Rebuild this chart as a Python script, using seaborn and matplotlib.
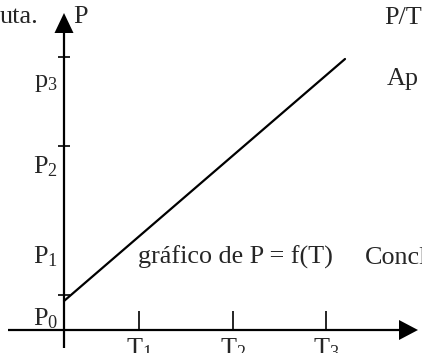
import matplotlib
matplotlib.use("Agg")
import matplotlib.pyplot as plt
from matplotlib.patches import Polygon
import seaborn as sns
import pandas as pd

# Isochoric transformation: pressure grows linearly with temperature
temp_ticks = [7.5, 16.9, 26.2]
temp_labels = ["T$_1$", "T$_2$", "T$_3$"]
press_ticks = [3.5, 18.4, 27.3]
press_labels = ["P$_0$", "P$_1$", "P$_2$", "p$_3$"]
press_label_pos = [0.5, 6.7, 15.7, 24.3]
line_T = [0.0, 28.1]
line_P = [2.9, 27.1]

sns.set_style("white")
plt.rcParams["font.family"] = ["Liberation Serif", "DejaVu Serif"]
plt.rcParams["mathtext.fontset"] = "custom"
plt.rcParams["mathtext.rm"] = "Liberation Serif"
plt.rcParams["mathtext.it"] = "Liberation Serif"
plt.rcParams["mathtext.default"] = "regular"

FS = 18.8
fig = plt.figure(figsize=(4.22, 3.53), dpi=100)
ax = fig.add_axes([0, 0, 1, 1])

# coordinate axes with arrowheads
ax.plot([-5.6, 33.6], [0, 0], color="black", lw=1.6, solid_capstyle="butt")
ax.plot([0, 0], [-1.8, 30.0], color="black", lw=1.6, solid_capstyle="butt")
ax.add_patch(Polygon([[33.5, -1.0], [35.4, 0], [33.5, 1.0]], closed=True,
                     color="black", lw=0))
ax.add_patch(Polygon([[-0.95, 29.7], [0, 31.7], [0.95, 29.7]], closed=True,
                     color="black", lw=0))

# tick marks
for t in temp_ticks:
    ax.plot([t, t], [0, 1.9], color="black", lw=1.2, solid_capstyle="butt")
for p in press_ticks:
    ax.plot([-0.65, 0.6], [p, p], color="black", lw=1.2, solid_capstyle="butt")

# P = f(T)
df = pd.DataFrame({"T": line_T, "P": line_P})
sns.lineplot(data=df, x="T", y="P", ax=ax, color="black", lw=1.6)
ax.set_xlim(-6.4, 35.8)
ax.set_ylim(-2.3, 33.0)
ax.axis("off")

# tick labels
for t, lab in zip(temp_ticks, temp_labels):
    ax.text(t, -0.6, lab, ha="center", va="top", fontsize=FS)
for p, lab in zip(press_label_pos, press_labels):
    ax.text(-0.6, p, lab, ha="right", va="baseline", fontsize=FS)

# axis names and surrounding text
ax.text(0.9, 30.7, "P", ha="left", va="baseline", fontsize=FS)
ax.text(-2.6, 30.7, "uta.", ha="right", va="baseline", fontsize=FS)
ax.text(32.0, 30.6, "P/T", ha="left", va="baseline", fontsize=FS)
ax.text(32.3, 24.5, "Ap", ha="left", va="baseline", fontsize=FS)
ax.text(7.4, 6.6, "gráfico de P = f(T)", ha="left", va="baseline", fontsize=FS)
ax.text(30.1, 6.6, "Concl", ha="left", va="baseline", fontsize=FS)

fig.savefig("out.png", dpi=100)
